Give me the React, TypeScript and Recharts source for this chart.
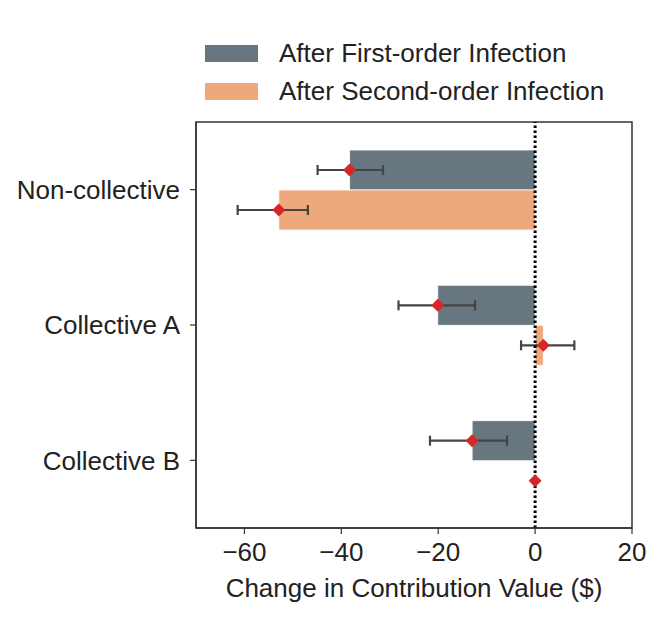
import {
  Bar,
  ComposedChart,
  ErrorBar,
  LabelList,
  ReferenceArea,
  ReferenceLine,
  XAxis,
  YAxis,
} from 'recharts';

const FIRST = '#687680';
const SECOND = '#eda87c';
const MARKER = '#d62728';
const INK = '#333333';
const FONT = '"Liberation Sans", Arial, sans-serif';

const categories = ['Non-collective', 'Collective A', 'Collective B'];
const firstOrder = [-38.3, -20.1, -13.0];
const firstLow = [-44.9, -28.2, -21.7];
const firstHigh = [-31.4, -12.4, -5.8];
const secondOrder = [-52.9, 1.7, 0];
const secondLow = [-61.4, -2.9, null];
const secondHigh = [-46.9, 8.1, null];
const xTicks = [-60, -40, -20, 0, 20];

const chartData = categories.map((name, i) => ({
  name,
  first: firstOrder[i],
  firstErr: [firstOrder[i] - firstLow[i], firstHigh[i] - firstOrder[i]],
  second: secondOrder[i],
  secondErr:
    secondLow[i] == null || secondHigh[i] == null
      ? undefined
      : [secondOrder[i] - (secondLow[i] as number), (secondHigh[i] as number) - secondOrder[i]],
}));

function Diamond(props: any) {
  const x = Number(props.x ?? props.viewBox?.x);
  const y = Number(props.y ?? props.viewBox?.y);
  const w = Number(props.width ?? props.viewBox?.width ?? 0);
  const h = Number(props.height ?? props.viewBox?.height ?? 0);
  const v = Number(props.value);
  let cx = v < 0 ? Math.min(x, x + w) : Math.max(x, x + w);
  // zero values are drawn with a 1px minimum bar; put the marker on the baseline
  if (v === 0) cx = Math.min(x, x + w);
  const cy = y + h / 2;
  const r = 6.5;
  return (
    <path
      d={`M${cx},${cy - r} L${cx + r},${cy} L${cx},${cy + r} L${cx - r},${cy} Z`}
      fill={MARKER}
    />
  );
}

const fmt = (v: number) => (v < 0 ? `\u2212${Math.abs(v)}` : `${v}`);

const legendItems = [
  { label: 'After First-order Infection', color: FIRST, top: 45 },
  { label: 'After Second-order Infection', color: SECOND, top: 83 },
];

export default function App() {
  return (
    <div style={{ position: 'absolute', left: 0, top: 0, width: 664, height: 617, fontFamily: FONT }}>
      {legendItems.map((it) => (
        <div key={it.label}>
          <div
            style={{
              position: 'absolute',
              left: 205,
              top: it.top,
              width: 53,
              height: 17,
              background: it.color,
            }}
          />
          <div
            style={{
              position: 'absolute',
              left: 279,
              top: it.top - 7,
              lineHeight: '31px',
              fontSize: 26,
              color: '#222',
              whiteSpace: 'nowrap',
            }}
          >
            {it.label}
          </div>
        </div>
      ))}
      <ComposedChart
        width={664}
        height={617}
        data={chartData}
        layout="vertical"
        margin={{ top: 122, right: 32, bottom: 0, left: 0 }}
        barGap={0}
        style={{ position: 'absolute', left: 0, top: 0 }}
      >
        <XAxis
          type="number"
          domain={[-70, 20]}
          ticks={xTicks}
          tickFormatter={fmt}
          height={89}
          tick={{ fontSize: 26, fill: '#222', fontFamily: FONT }}
          tickSize={6}
          tickMargin={9}
          axisLine={{ stroke: INK, strokeWidth: 1.5 }}
          tickLine={{ stroke: INK, strokeWidth: 1.2 }}
          allowDataOverflow
          label={{
            value: 'Change in Contribution Value ($)',
            position: 'insideBottom',
            offset: 20,
            fontSize: 26,
            fill: '#222',
            fontFamily: FONT,
          }}
        />
        <YAxis
          type="category"
          dataKey="name"
          width={196}
          tick={{ fontSize: 26, fill: '#222', fontFamily: FONT }}
          tickSize={6}
          tickMargin={10}
          axisLine={{ stroke: INK, strokeWidth: 1.5 }}
          tickLine={{ stroke: INK, strokeWidth: 1.2 }}
        />
        <ReferenceArea x1={-70} x2={20} fill="none" stroke={INK} strokeWidth={1.5} />
        <Bar
          dataKey="first"
          fill={FIRST}
          stroke="#ffffff"
          strokeWidth={0.8}
          barSize={40}
          isAnimationActive={false}
        >
          <ErrorBar dataKey="firstErr" direction="x" width={5} stroke="#444" strokeWidth={2.2} />
          <LabelList dataKey="first" content={Diamond} />
        </Bar>
        <Bar
          dataKey="second"
          fill={SECOND}
          stroke="#ffffff"
          strokeWidth={0.8}
          barSize={40}
          minPointSize={1}
          isAnimationActive={false}
        >
          <ErrorBar dataKey="secondErr" direction="x" width={5} stroke="#444" strokeWidth={2.2} />
          <LabelList dataKey="second" content={Diamond} />
        </Bar>
        <ReferenceLine x={0} stroke="#000" strokeWidth={3} strokeDasharray="2.5 2.5" />
      </ComposedChart>
    </div>
  );
}
